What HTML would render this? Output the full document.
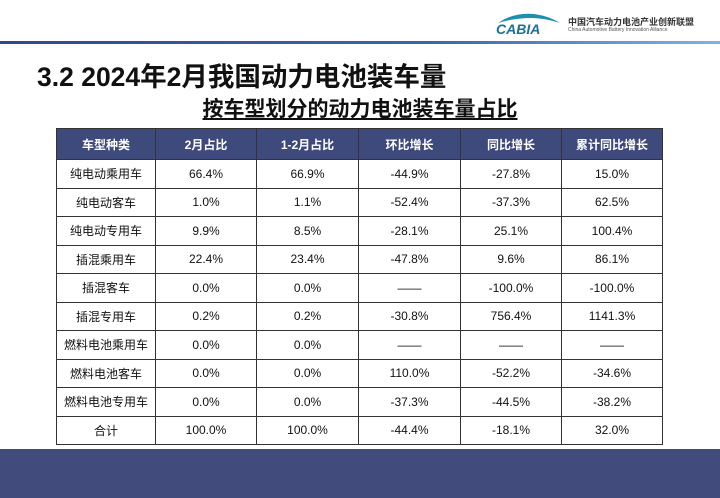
<!DOCTYPE html>
<html><head><meta charset="utf-8"><style>
body{margin:0;width:720px;height:498px;overflow:hidden;background:#fff;position:relative;font-family:"Liberation Sans","Noto Sans CJK SC",sans-serif}
.abs{position:absolute}
table{position:absolute;left:56px;top:128px;border-collapse:collapse;table-layout:fixed}
td,th{border:1.5px solid #333;text-align:center;font-size:12px;padding:0;color:#111}
th{background:#3f4a7c;color:#fff;font-weight:bold;height:30px}
td{height:27.5px}
</style></head><body>
<div class="abs" style="left:494px;top:10px;width:70px;height:26px">
<svg width="70" height="26"><path d="M4 13 Q20 2 40 4 Q55 6 66 13 Q50 8 38 8 Q20 8 4 13Z" fill="#1e8fb0"/><text x="2" y="24" font-size="14" font-style="italic" font-weight="bold" fill="#1e6f9a" font-family="Liberation Sans">CABIA</text></svg></div>
<div class="abs" style="left:568px;top:15px;font-size:9px;font-weight:bold;color:#333;white-space:nowrap">中国汽车动力电池产业创新联盟</div>
<div class="abs" style="left:568px;top:27px;font-size:5px;color:#555;white-space:nowrap">China Automotive Battery Innovation Alliance</div>
<div class="abs" style="left:0;top:41px;width:720px;height:3px;background:linear-gradient(90deg,#2e4a8e,#3e64b0 60%,#7fb2ec)"></div>
<div class="abs" style="left:37px;top:55px;font-size:26.5px;font-weight:bold;color:#111;white-space:nowrap">3.2 2024年2月我国动力电池装车量</div>
<div class="abs" style="left:0;width:720px;top:93px;text-align:center;font-size:21px;font-weight:bold;text-decoration:underline;color:#111">按车型划分的动力电池装车量占比</div>
<table>
<colgroup><col style="width:99px"><col style="width:101px"><col style="width:102px"><col style="width:102px"><col style="width:101px"><col style="width:101px"></colgroup>
<tr><th>车型种类</th><th>2月占比</th><th>1-2月占比</th><th>环比增长</th><th>同比增长</th><th>累计同比增长</th></tr>
<tr><td>纯电动乘用车</td><td>66.4%</td><td>66.9%</td><td>-44.9%</td><td>-27.8%</td><td>15.0%</td></tr>
<tr><td>纯电动客车</td><td>1.0%</td><td>1.1%</td><td>-52.4%</td><td>-37.3%</td><td>62.5%</td></tr>
<tr><td>纯电动专用车</td><td>9.9%</td><td>8.5%</td><td>-28.1%</td><td>25.1%</td><td>100.4%</td></tr>
<tr><td>插混乘用车</td><td>22.4%</td><td>23.4%</td><td>-47.8%</td><td>9.6%</td><td>86.1%</td></tr>
<tr><td>插混客车</td><td>0.0%</td><td>0.0%</td><td>——</td><td>-100.0%</td><td>-100.0%</td></tr>
<tr><td>插混专用车</td><td>0.2%</td><td>0.2%</td><td>-30.8%</td><td>756.4%</td><td>1141.3%</td></tr>
<tr><td>燃料电池乘用车</td><td>0.0%</td><td>0.0%</td><td>——</td><td>——</td><td>——</td></tr>
<tr><td>燃料电池客车</td><td>0.0%</td><td>0.0%</td><td>110.0%</td><td>-52.2%</td><td>-34.6%</td></tr>
<tr><td>燃料电池专用车</td><td>0.0%</td><td>0.0%</td><td>-37.3%</td><td>-44.5%</td><td>-38.2%</td></tr>
<tr><td>合计</td><td>100.0%</td><td>100.0%</td><td>-44.4%</td><td>-18.1%</td><td>32.0%</td></tr>
</table>
<div class="abs" style="left:0;top:449px;width:720px;height:49px;background:#414b7c"></div>
</body></html>
